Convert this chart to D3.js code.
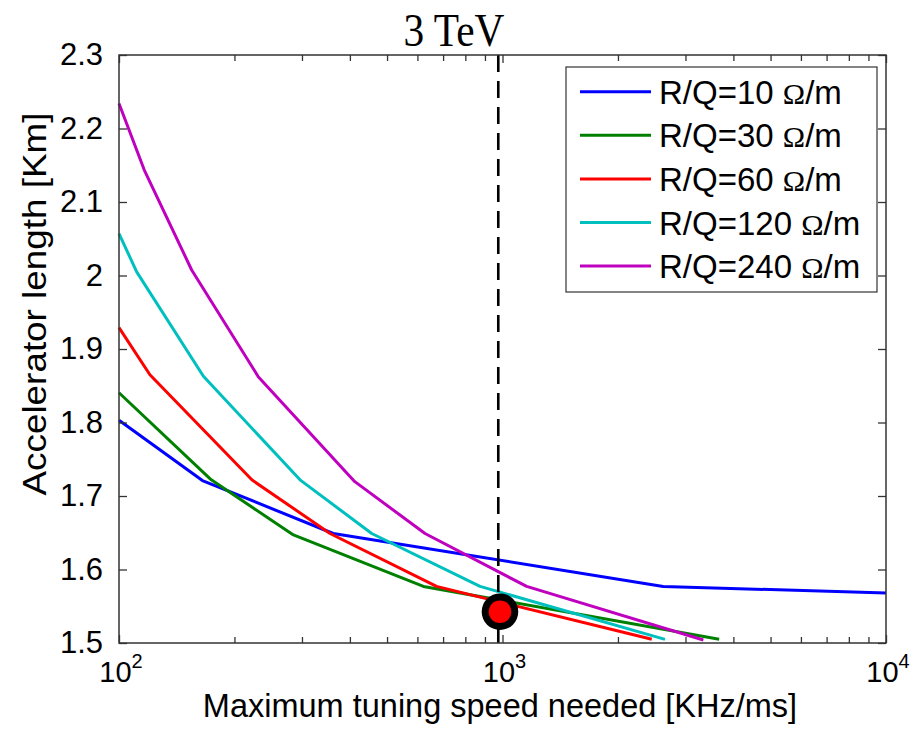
<!DOCTYPE html>
<html><head><meta charset="utf-8">
<script src="https://cdn.jsdelivr.net/npm/d3@7"></script>
<style>body{margin:0;background:#fff;}</style>
</head><body>
<svg id="c" width="916" height="735" font-family="Liberation Sans, Arial, sans-serif"></svg>
<script>
const seriesNames = ["R/Q=10", "R/Q=30", "R/Q=60", "R/Q=120", "R/Q=240"];
const seriesColors = ["#0000ff", "#008000", "#ff0000", "#00bfbf", "#bf00bf"];
const rq10  = [[100,1.803],[165,1.721],[362,1.649],[2625,1.577],[10000,1.568]];
const rq30  = [[100,1.8405],[174,1.722],[285,1.647],[622,1.577],[3673,1.505]];
const rq60  = [[100,1.929],[120.4,1.865],[222,1.722],[355,1.649],[673,1.577],[2450,1.505]];
const rq120 = [[100,2.057],[111.2,2.005],[166,1.863],[296.5,1.722],[456,1.649],[874,1.577],[2653,1.505]];
const rq240 = [[100,2.234],[116.4,2.1435],[154.7,2.0075],[231,1.862],[412,1.7195],[628,1.649],[1156,1.577],[3340,1.504]];
const seriesData = [rq10, rq30, rq60, rq120, rq240];
const yTicks = [1.5,1.6,1.7,1.8,1.9,2.0,2.1,2.2,2.3];
const yTickLabels = ["1.5","1.6","1.7","1.8","1.9","2","2.1","2.2","2.3"];
const xMajor = [100,1000,10000];
const xExp = ["2","3","4"];
const xMinor = [200,300,400,500,600,700,800,900,2000,3000,4000,5000,6000,7000,8000,9000];
const dashX = 975;
const marker = [985, 1.5426];
const title = "3 TeV";
const xLabel = "Maximum tuning speed needed [KHz/ms]";
const yLabel = "Accelerator length [Km]";

const svg = d3.select("#c");
const L=119, R=886, T=55, B=643;
const x = d3.scaleLog().domain([100,10000]).range([L,R]);
const y = d3.scaleLinear().domain([1.5,2.3]).range([B,T]);
const axisCol = "#333";
const serif = "Liberation Serif, Times New Roman, serif";

// series lines
const line = d3.line().x(d=>x(d[0])).y(d=>y(d[1]));
const gL = svg.append("g");
seriesData.forEach((s,i)=>{
  gL.append("path").attr("d",line(s)).attr("fill","none")
    .attr("stroke",seriesColors[i]).attr("stroke-width",3).attr("stroke-linejoin","round");
});
// dashed line
svg.append("line").attr("x1",x(dashX)).attr("x2",x(dashX)).attr("y1",y(2.3)).attr("y2",y(1.5))
  .attr("stroke","#000").attr("stroke-width",2.6).attr("stroke-dasharray","17,9");
// marker
svg.append("circle").attr("cx",x(marker[0])).attr("cy",y(marker[1])).attr("r",18.3).attr("fill","#000");
svg.append("circle").attr("cx",x(marker[0])).attr("cy",y(marker[1])).attr("r",11.3).attr("fill","#ff0000");

// axes box
svg.append("rect").attr("x",L).attr("y",T).attr("width",R-L).attr("height",B-T)
  .attr("fill","none").attr("stroke",axisCol).attr("stroke-width",1.5);
// y ticks
const yl = d3.axisLeft(y).tickValues(yTicks).tickSize(-8).tickPadding(16).tickFormat((d,i)=>yTickLabels[i]);
const yg = svg.append("g").attr("transform",`translate(${L},0)`).call(yl);
const yr = d3.axisRight(y).tickValues(yTicks).tickSize(-8).tickFormat("");
const yrg = svg.append("g").attr("transform",`translate(${R},0)`).call(yr);
// x ticks
const xb = d3.axisBottom(x).tickValues(xMajor.concat(xMinor)).tickSize(-6).tickFormat("");
const xbg = svg.append("g").attr("transform",`translate(0,${B})`).call(xb);
const xt = d3.axisTop(x).tickValues(xMajor.concat(xMinor)).tickSize(-6).tickFormat("");
const xtg = svg.append("g").attr("transform",`translate(0,${T})`).call(xt);
[yg,yrg,xbg,xtg].forEach(g=>{
  g.select(".domain").remove();
  g.selectAll(".tick line").attr("stroke",axisCol).attr("stroke-width",1.3);
});
xbg.selectAll(".tick line").filter(d=>xMajor.includes(d)).attr("y2",-8);
xtg.selectAll(".tick line").filter(d=>xMajor.includes(d)).attr("y2",8);
yg.selectAll(".tick text").attr("font-size",31).attr("fill","#000").attr("font-family","Liberation Sans, Arial, sans-serif");

// x tick labels
xMajor.forEach((v,i)=>{
  const t = svg.append("text").attr("x",x(v)+2).attr("y",682).attr("text-anchor","middle")
    .attr("font-size",29).attr("fill","#000");
  t.append("tspan").text("10");
  t.append("tspan").attr("dy",-14).attr("font-size",20).text(xExp[i]);
});

// labels
svg.append("text").attr("x",500).attr("y",717).attr("text-anchor","middle").attr("font-size",32.5).text(xLabel);
svg.append("text").attr("transform","translate(46,304) rotate(-90)").attr("text-anchor","middle")
  .attr("font-size",34).attr("textLength",383).attr("lengthAdjust","spacingAndGlyphs").text(yLabel);
svg.append("text").attr("transform","translate(454,46) scale(0.88,1)").attr("text-anchor","middle")
  .attr("font-family",serif).attr("font-size",47).text(title);

// legend
const lg = svg.append("g");
lg.append("rect").attr("x",566).attr("y",67).attr("width",311).attr("height",225)
  .attr("fill","#fff").attr("stroke",axisCol).attr("stroke-width",1.2);
seriesNames.forEach((n,i)=>{
  const yy = 91.7 + i*43.6;
  lg.append("line").attr("x1",580).attr("x2",651).attr("y1",yy).attr("y2",yy)
    .attr("stroke",seriesColors[i]).attr("stroke-width",3);
  const t = lg.append("text").attr("x",659).attr("y",yy+12).attr("font-size",33).attr("fill","#000");
  t.append("tspan").text(n+" ");
  t.append("tspan").attr("font-family",serif).attr("font-size",30).text("Ω");
  t.append("tspan").text("/m");
});
</script>
</body></html>
